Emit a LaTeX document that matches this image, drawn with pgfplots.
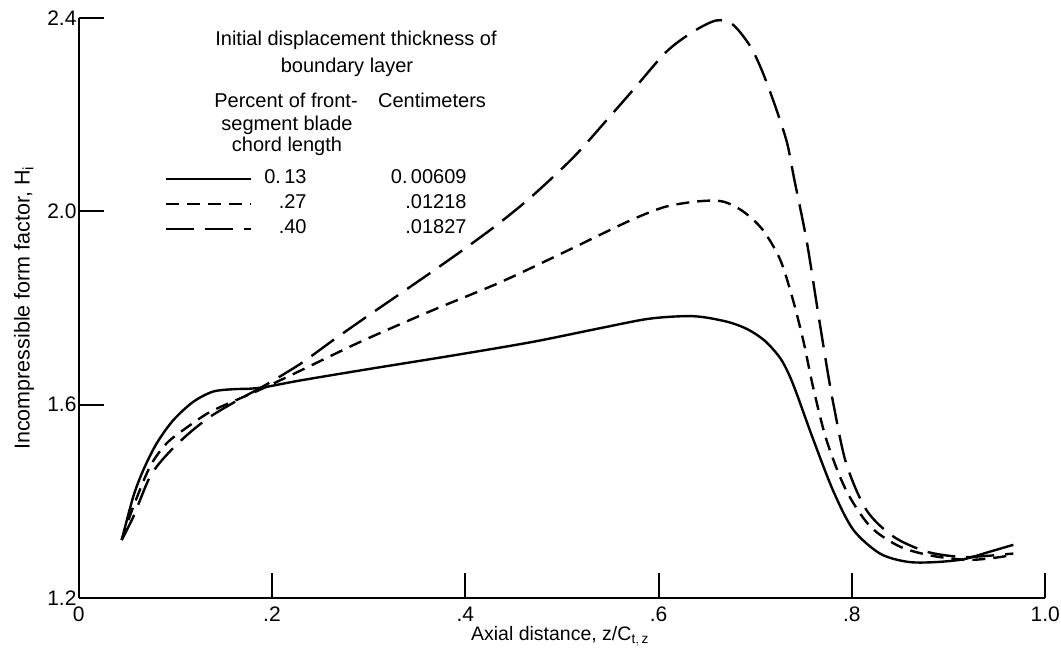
\documentclass[border=0pt]{standalone}
\usepackage{fontspec}
\setmainfont{Liberation Sans}
\usepackage{pgfplots}
\pgfplotsset{compat=1.18}
\begin{document}
\begin{tikzpicture}[font=\fontsize{20}{23}\selectfont]
\path[use as bounding box] (-78.7pt,-60pt) rectangle (982.3pt,598pt);
\begin{axis}[
  at={(0pt,0pt)}, anchor=south west,
  scale only axis, width=966.5pt, height=580pt,
  xmin=0, xmax=1, ymin=1.2, ymax=2.4,
  clip=false,
  axis x line*=bottom, axis y line*=left,
  axis line style={line width=1.8pt, -},
  tick align=inside, major tick length=25pt,
  tick style={line width=1.8pt, black},
  tick label style={font=\fontsize{21}{24}\selectfont},
  xtick={0,0.2,0.4,0.6,0.8,1.0}, xticklabels={0,.2,.4,.6,.8,1.0},
  ytick={1.2,1.6,2.0,2.4}, yticklabels={1.2,1.6,2.0,2.4},
  xticklabel style={inner sep=1pt, yshift=-8pt},
  yticklabel style={inner sep=2pt},
  xlabel={Axial distance, z/C$_{\mathrm{t,\,z}}$},
  ylabel={Incompressible form factor, H$_{\mathrm{i}}$},
  xlabel style={at={(axis description cs:0.498,0)}, anchor=center, yshift=-38pt, font=\fontsize{19.5}{22}\selectfont},
  ylabel style={at={(axis description cs:-0.0566,0.5)}, anchor=center, font=\fontsize{21.5}{24}\selectfont},
  legend style={draw=none, fill=none, at={(rel axis cs:0.0893,0.742)}, anchor=north west, inner sep=0pt, row sep=3pt,
    nodes={text height=14pt, text depth=4pt}},
  legend cell align=left,
  legend image code/.code={\draw[#1] (0pt,0pt) -- (85pt,0pt);},
]
\addplot[black, line width=2.4pt, smooth] coordinates {
(0.0445,1.320) (0.0565,1.410) (0.0669,1.465) (0.0807,1.520) (0.0979,1.568)
(0.1186,1.606) (0.139,1.627) (0.160,1.632) (0.177,1.633) (0.1945,1.637)
(0.229,1.650) (0.298,1.673) (0.391,1.703) (0.470,1.730) (0.539,1.758)
(0.591,1.778) (0.636,1.783) (0.670,1.772) (0.692,1.756) (0.710,1.732)
(0.7256,1.697) (0.735,1.662) (0.743,1.622) (0.760,1.528) (0.781,1.420)
(0.8015,1.341) (0.829,1.292) (0.857,1.275) (0.884,1.274) (0.915,1.280)
(0.943,1.296) (0.967,1.310)
};
\addlegendentry{\hspace{2pt}\makebox[50pt][r]{0.\,13}\makebox[160pt][r]{0.\,00609}}
\addplot[black, line width=2.4pt, smooth, dash pattern=on 13pt off 8pt] coordinates {
(0.0445,1.320) (0.0565,1.389) (0.0738,1.472) (0.091,1.520) (0.112,1.553)
(0.136,1.585) (0.167,1.613) (0.191,1.634) (0.229,1.670) (0.263,1.703)
(0.298,1.736) (0.367,1.796) (0.436,1.853) (0.505,1.918) (0.539,1.951)
(0.575,1.985) (0.608,2.010) (0.643,2.021) (0.667,2.020) (0.688,1.999)
(0.708,1.961) (0.726,1.899) (0.739,1.817) (0.750,1.730) (0.760,1.635)
(0.774,1.525) (0.794,1.423) (0.819,1.348) (0.850,1.306) (0.884,1.287)
(0.919,1.279) (0.943,1.282) (0.967,1.289)
};
\addlegendentry{\hspace{2pt}\makebox[50pt][r]{.27}\makebox[160pt][r]{.01218}}
\addplot[black, line width=2.4pt, smooth, dash pattern=on 28pt off 11pt] coordinates {
(0.0445,1.320) (0.0565,1.368) (0.0738,1.451) (0.091,1.496) (0.112,1.537)
(0.136,1.575) (0.167,1.612) (0.191,1.638) (0.229,1.684) (0.263,1.733)
(0.298,1.782) (0.333,1.830) (0.367,1.877) (0.401,1.925) (0.436,1.977)
(0.470,2.033) (0.512,2.112) (0.546,2.188) (0.574,2.252) (0.608,2.330)
(0.636,2.372) (0.660,2.395) (0.677,2.386) (0.695,2.341) (0.708,2.286)
(0.722,2.210) (0.733,2.141) (0.740,2.070) (0.753,1.941) (0.764,1.803)
(0.774,1.679) (0.781,1.600) (0.794,1.479) (0.815,1.382) (0.843,1.327)
(0.877,1.296) (0.912,1.285) (0.939,1.287) (0.967,1.292)
};
\addlegendentry{\hspace{2pt}\makebox[50pt][r]{.40}\makebox[160pt][r]{.01827}}
\node at (axis cs:0.2869,2.3545) {Initial displacement thickness of};
\node at (axis cs:0.2776,2.2986) {boundary layer};
\node at (axis cs:0.2145,2.2304) {Percent of front-};
\node at (axis cs:0.3656,2.2304) {Centimeters};
\node at (axis cs:0.2155,2.1786) {segment blade};
\node at (axis cs:0.2155,2.1352) {chord length};
\end{axis}
\end{tikzpicture}
\end{document}
